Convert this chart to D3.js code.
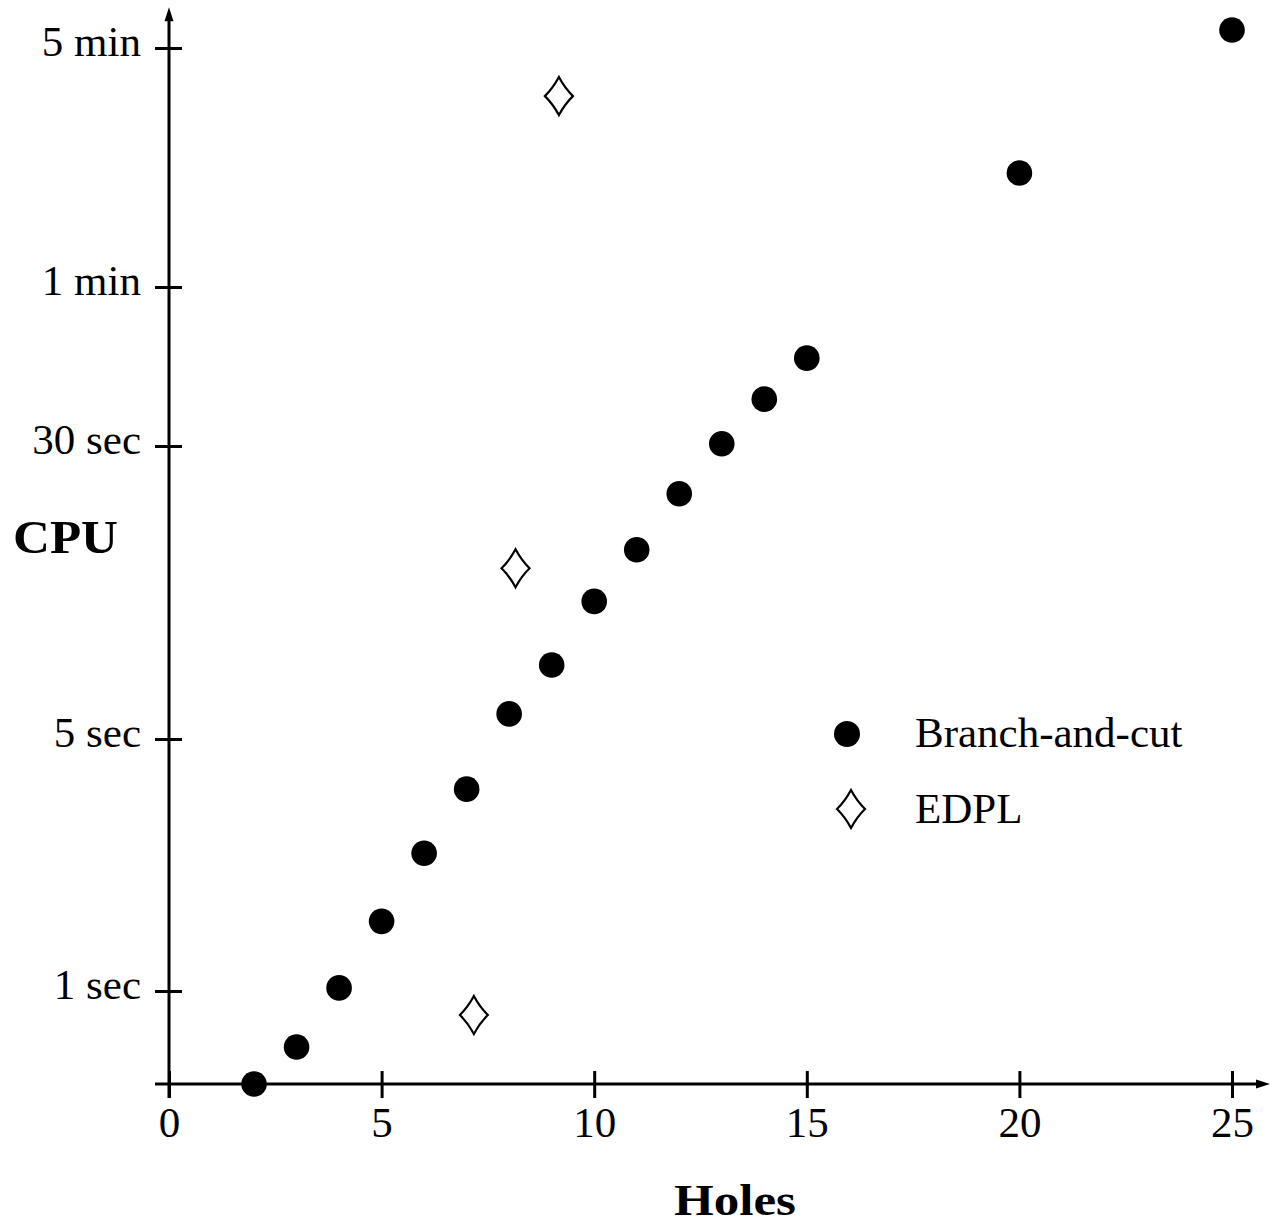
<!DOCTYPE html>
<html><head><meta charset="utf-8">
<script src="https://cdn.jsdelivr.net/npm/d3@7"></script>
<style>body{margin:0;background:#fff}svg{display:block}</style>
</head><body><svg id="c" width="1275" height="1224"></svg>
<script>
// ---- data (CPU time in seconds vs number of holes) ----
const holes = [2,3,4,5,6,7,8,9,10,11,12,13,14,15,20,25];
const branchAndCutSec = [0.552,0.699,1.02,1.56,2.41,3.63,5.83,7.86,11.6,15.9,22.4,30.3,36.8,44.0,129.3,338.6];
const edplHoles = [7.17,8.15,9.17];
const edplSec = [0.858,14.2,217];
const xTicks = [0,5,10,15,20,25];
const yTicks = [1,5,30,60,300];
const yTickLabels = ["1 sec","5 sec","30 sec","1 min","5 min"];
const seriesNames = ["Branch-and-cut","EDPL"];
const yAxisMin = 0.552, yAxisMax = 395;

const svg = d3.select("#c");
const FONT = "'Liberation Serif', 'Times New Roman', serif";

const x = d3.scaleLinear().domain([0,25]).range([169,1232]);
// piecewise logarithmic scale (the reference axis is not uniformly logarithmic)
const y = d3.scaleLog().domain(yTicks).range([991,739,446,287,48]);

const x0 = x(0), yBase = y(yAxisMin), yTop = y(yAxisMax);

// axes lines
svg.append("line").attr("x1",x0).attr("x2",x0).attr("y1",yBase+14).attr("y2",yTop+10)
  .attr("stroke","#000").attr("stroke-width",3);
svg.append("line").attr("x1",x0-14).attr("x2",1262).attr("y1",yBase).attr("y2",yBase)
  .attr("stroke","#000").attr("stroke-width",3);
// arrowheads
svg.append("path").attr("d",`M${x0},${yTop} L${x0-4.5},${yTop+14} L${x0+4.5},${yTop+14} Z`).attr("fill","#000");
svg.append("path").attr("d",`M1270,${yBase} L1256,${yBase-4.5} L1256,${yBase+4.5} Z`).attr("fill","#000");

// y axis via d3.axisLeft
const gy = svg.append("g").attr("transform",`translate(${x0},0)`)
  .call(d3.axisLeft(y).tickValues(yTicks).tickFormat((d,i)=>yTickLabels[i]).tickSize(0).tickPadding(0));
gy.select(".domain").remove();
gy.selectAll(".tick line").attr("x1",-14).attr("x2",13).attr("stroke","#000").attr("stroke-width",3);
gy.selectAll(".tick text").attr("x",-28).attr("dy",null).attr("y",7)
  .attr("font-family",FONT).attr("font-size",43).attr("fill","#000");

// x axis via d3.axisBottom
const gx = svg.append("g").attr("transform",`translate(0,${yBase})`)
  .call(d3.axisBottom(x).tickValues(xTicks).tickSize(0).tickPadding(0));
gx.select(".domain").remove();
gx.selectAll(".tick line").attr("y1",-13).attr("y2",14).attr("stroke","#000").attr("stroke-width",3);
gx.selectAll(".tick text").attr("dy",null).attr("y",53)
  .attr("font-family",FONT).attr("font-size",43).attr("fill","#000");
svg.selectAll(".tick text").attr("dominant-baseline","auto");

// axis titles
svg.append("text").attr("x",13).attr("y",553).text("CPU")
  .attr("font-family",FONT).attr("font-weight","bold").attr("font-size",47)
  .attr("textLength",105).attr("lengthAdjust","spacingAndGlyphs");
svg.append("text").attr("x",674).attr("y",1215).text("Holes")
  .attr("font-family",FONT).attr("font-weight","bold").attr("font-size",45)
  .attr("textLength",122).attr("lengthAdjust","spacingAndGlyphs");

// diamond path (slightly concave sides)
function diamond(w,h){
  const k=0.84;
  return `M0,${-h} Q${w/2*k},${-h/2*k} ${w},0 Q${w/2*k},${h/2*k} 0,${h} Q${-w/2*k},${h/2*k} ${-w},0 Q${-w/2*k},${-h/2*k} 0,${-h} Z`;
}

// Branch-and-cut points
svg.append("g").selectAll("circle").data(holes).join("circle")
  .attr("cx",d=>x(d)).attr("cy",(d,i)=>y(branchAndCutSec[i])).attr("r",12.8).attr("fill","#000");

// EDPL points
svg.append("g").selectAll("path").data(edplHoles).join("path")
  .attr("transform",(d,i)=>`translate(${x(d)},${y(edplSec[i])})`)
  .attr("d",diamond(14,19)).attr("fill","none").attr("stroke","#000").attr("stroke-width",2.2);

// legend
const lg = svg.append("g");
lg.append("circle").attr("cx",847).attr("cy",734).attr("r",13).attr("fill","#000");
lg.append("text").attr("x",915).attr("y",747).text(seriesNames[0])
  .attr("font-family",FONT).attr("font-size",43);
lg.append("path").attr("transform","translate(851,809)").attr("d",diamond(14,19))
  .attr("fill","none").attr("stroke","#000").attr("stroke-width",2.2);
lg.append("text").attr("x",915).attr("y",823).text(seriesNames[1])
  .attr("font-family",FONT).attr("font-size",43);
</script></body></html>
